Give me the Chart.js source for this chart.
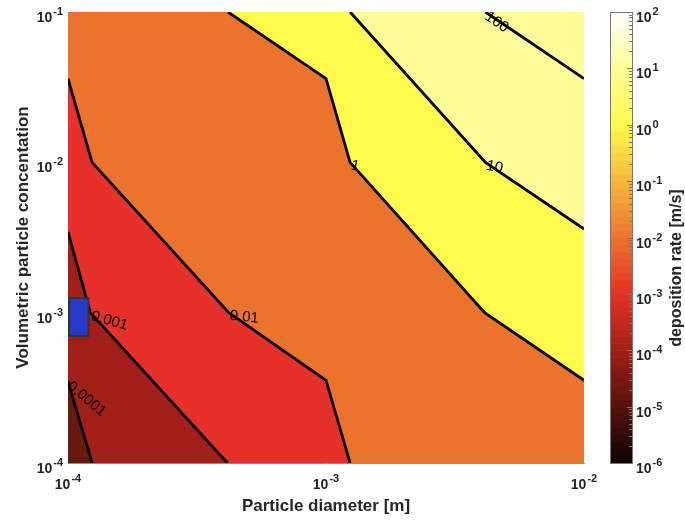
<!DOCTYPE html>
<html lang="en">
<head>
<meta charset="UTF-8">
<title>Deposition rate map</title>
<script src="https://cdn.jsdelivr.net/npm/chart.js"></script>
<style>
  body { margin: 0; background: #fff; }
  #wrap { position: relative; width: 685px; height: 521px; }
</style>
</head>
<body>
<div id="wrap"><canvas id="depositionChart"></canvas></div>
<script>
// contour levels of the deposition rate [m/s] and their printed labels
const levels = [1e-4, 1e-3, 1e-2, 1, 10, 100];
const levelText = ['0.0001', '0.001', '0.01', '1', '10', '100'];

// contour lines: particle diameter [m] vs volumetric concentration
const diam1e4 = [1e-4, 1.24e-4];
const conc1e4 = [3.5e-4, 1e-4];
const diam1e3 = [1e-4, 1.22e-4, 4.15e-4];
const conc1e3 = [3.45e-3, 1e-3, 1e-4];
const diam1e2 = [1e-4, 1.24e-4, 4.2e-4, 1e-3, 1.24e-3];
const conc1e2 = [3.6e-2, 1e-2, 1e-3, 3.55e-4, 1e-4];
const diam1e0 = [4.17e-4, 1e-3, 1.24e-3, 4.12e-3, 1e-2];
const conc1e0 = [1e-1, 3.6e-2, 1e-2, 1e-3, 3.55e-4];
const diam1e1 = [1.24e-3, 4.15e-3, 1e-2];
const conc1e1 = [1e-1, 1e-2, 3.6e-3];
const diam1e2b = [4.15e-3, 1e-2];
const conc1e2b = [1e-1, 3.6e-2];

const lineDiam = [diam1e4, diam1e3, diam1e2, diam1e0, diam1e1, diam1e2b];
const lineConc = [conc1e4, conc1e3, conc1e2, conc1e0, conc1e1, conc1e2b];

// where each contour label sits (data coords) and its tilt in degrees
const labelDiam = [1e-4, 1.22e-4, 4.2e-4, 1.24e-3, 4.15e-3, 4.15e-3];
const labelConc = [3.5e-4, 1e-3, 1e-3, 1e-2, 1e-2, 1e-1];
const labelTilt = [40, 16, 6, 10, 12, 35];

// highlighted operating point
const markerDiam = [1e-4, 1.2e-4];
const markerConc = [7.0e-4, 1.25e-3];

// axis ranges and ticks
const diamRange = [1e-4, 1e-2];
const concRange = [1e-4, 1e-1];
const rateRange = [1e-6, 1e2];
const diamTicks = [1e-4, 1e-3, 1e-2];
const concTicks = [1e-4, 1e-3, 1e-2, 1e-1];
const rateTicks = [1e-6, 1e-5, 1e-4, 1e-3, 1e-2, 1e-1, 1e0, 1e1, 1e2];

// fill colours: below the first level, then above each level
const regionColors = ['#6a1911', '#a11f17', '#e5312a', '#ec732e', '#fffa4d', '#fffb98', '#fffb98'];
// "hot" colour map as it appears on screen, position 0..1 -> rgb
const cmapStops = [
  [0, [12, 3, 3]], [0.25, [161, 31, 23]], [0.375, [229, 49, 37]],
  [0.5, [236, 115, 46]], [0.75, [255, 250, 77]], [0.875, [255, 252, 150]], [1, [255, 255, 252]]
];

const ink = '#262626';
const fam = '"Liberation Sans", Arial, sans-serif';
const titleFont = { family: fam, size: 17, weight: 'bold' };

function cmap(t) {
  for (let i = 1; i < cmapStops.length; i++) {
    const [t1, c1] = cmapStops[i];
    const [t0, c0] = cmapStops[i - 1];
    if (t <= t1) {
      const f = (t - t0) / (t1 - t0);
      const c = c0.map((v, k) => Math.round(v + (c1[k] - v) * f));
      return `rgb(${c[0]},${c[1]},${c[2]})`;
    }
  }
  return 'rgb(255,255,255)';
}

// "10" with a raised exponent; align is where x sits on the label
function drawPow(ctx, v, x, baseY, align) {
  const exp = String(Math.round(Math.log10(v)));
  ctx.font = 'bold 14px ' + fam;
  const wb = ctx.measureText('10').width;
  ctx.font = 'bold 11px ' + fam;
  const we = ctx.measureText(exp).width;
  const total = wb + 1 + we;
  let x0 = x;
  if (align === 'right') x0 = x - total;
  else if (align === 'center') x0 = x - total / 2;
  ctx.textAlign = 'left';
  ctx.textBaseline = 'alphabetic';
  ctx.font = 'bold 14px ' + fam;
  ctx.fillText('10', x0, baseY);
  ctx.font = 'bold 11px ' + fam;
  ctx.fillText(exp, x0 + wb + 1, baseY - 7);
}

// filled bands: each contour line filled up to the top of the plot,
// lines that end on the bottom edge are closed along it to the right side
const fillSets = levels.map((lv, i) => {
  const pts = lineDiam[i].map((d, k) => ({ x: d, y: lineConc[i][k] }));
  const last = pts[pts.length - 1];
  if (last.y === concRange[0] && last.x < diamRange[1]) pts.push({ x: diamRange[1], y: concRange[0] });
  return {
    data: pts, showLine: true, fill: 'end', backgroundColor: regionColors[i + 1],
    borderColor: 'rgba(0,0,0,0)', borderWidth: 1, pointRadius: 0, tension: 0, order: 20 - i
  };
});

const lineSets = levels.map((lv, i) => ({
  data: lineDiam[i].map((d, k) => ({ x: d, y: lineConc[i][k] })),
  showLine: true, fill: false, borderColor: '#000', borderWidth: 2.8,
  pointRadius: 0, tension: 0, order: 1
}));

const overlay = {
  id: 'overlay',
  beforeDatasetsDraw(chart) {
    const { ctx, chartArea: a } = chart;
    ctx.save();
    ctx.fillStyle = regionColors[0];
    ctx.fillRect(a.left, a.top, a.right - a.left, a.bottom - a.top);
    ctx.restore();
  },
  afterDatasetsDraw(chart) {
    const { ctx, chartArea: a, scales } = chart;
    const sx = scales.x, sy = scales.y, sc = scales.cbar;
    ctx.save();

    // operating point box
    const bx0 = sx.getPixelForValue(markerDiam[0]), bx1 = sx.getPixelForValue(markerDiam[1]);
    const by0 = sy.getPixelForValue(markerConc[1]), by1 = sy.getPixelForValue(markerConc[0]);
    ctx.fillStyle = '#2a39c9';
    ctx.fillRect(bx0, by0, bx1 - bx0, by1 - by0);
    ctx.strokeStyle = '#333';
    ctx.lineWidth = 2;
    ctx.strokeRect(bx0 + 1, by0, bx1 - bx0 - 1, by1 - by0);

    // contour labels
    ctx.beginPath();
    ctx.rect(a.left, a.top, a.right - a.left, a.bottom - a.top);
    ctx.clip();
    ctx.fillStyle = '#000';
    ctx.font = '15px ' + fam;
    ctx.textAlign = 'left';
    ctx.textBaseline = 'middle';
    levelText.forEach((t, i) => {
      ctx.save();
      ctx.translate(sx.getPixelForValue(labelDiam[i]) + 1, sy.getPixelForValue(labelConc[i]) + 3);
      ctx.rotate(labelTilt[i] * Math.PI / 180);
      ctx.fillText(t, 0, 0);
      ctx.restore();
    });
    ctx.restore();

    // colour bar, 64 discrete steps over the log range
    ctx.save();
    const cx = a.right + 26, cw = 22;
    const lo = Math.log10(rateRange[0]), hi = Math.log10(rateRange[1]);
    for (let k = 0; k < 64; k++) {
      const yb = sc.getPixelForValue(Math.pow(10, lo + (hi - lo) * k / 64));
      const yt = sc.getPixelForValue(Math.pow(10, lo + (hi - lo) * (k + 1) / 64));
      ctx.fillStyle = cmap((k + 0.5) / 64);
      ctx.fillRect(cx, yt, cw, yb - yt + 0.6);
    }
    const top = sc.getPixelForValue(rateRange[1]), bot = sc.getPixelForValue(rateRange[0]);
    ctx.strokeStyle = '#777';
    ctx.lineWidth = 1;
    ctx.strokeRect(cx + 0.5, top + 0.5, cw, bot - top);
    ctx.beginPath();
    for (let e = lo; e < hi; e++) {
      for (let m = 1; m < 10; m++) {
        const yy = Math.round(sc.getPixelForValue(m * Math.pow(10, e))) + 0.5;
        const len = m === 1 ? 5 : 3;
        ctx.moveTo(cx + cw - len, yy);
        ctx.lineTo(cx + cw, yy);
      }
    }
    ctx.stroke();

    // tick labels of all three axes
    ctx.fillStyle = ink;
    diamTicks.forEach(v => drawPow(ctx, v, sx.getPixelForValue(v), a.bottom + 26, 'center'));
    concTicks.forEach(v => drawPow(ctx, v, a.left - 5, sy.getPixelForValue(v) + 10, 'right'));
    rateTicks.forEach(v => drawPow(ctx, v, cx + cw + 4, sc.getPixelForValue(v) + 10, 'left'));

    // colour bar title, reading upwards
    ctx.translate(677, 268);
    ctx.rotate(-Math.PI / 2);
    ctx.font = 'bold 16px ' + fam;
    ctx.textAlign = 'center';
    ctx.textBaseline = 'middle';
    ctx.fillText('deposition rate [m/s]', 0, 0);
    ctx.restore();
  }
};

const noPad = s => { s.paddingTop = 0; s.paddingBottom = 0; };

new Chart(document.getElementById('depositionChart'), {
  type: 'scatter',
  data: { datasets: [...fillSets, ...lineSets] },
  options: {
    responsive: true,
    maintainAspectRatio: false,
    animation: false,
    layout: { padding: { top: 12, left: 0, right: 0, bottom: 0 } },
    plugins: { legend: { display: false }, tooltip: { enabled: false } },
    scales: {
      x: {
        type: 'logarithmic', min: diamRange[0], max: diamRange[1], z: 1,
        grid: { display: false, drawTicks: false },
        border: { display: true, color: '#8c8c8c', width: 1 },
        afterBuildTicks: s => { s.ticks = diamTicks.map(v => ({ value: v })); },
        afterFit: s => { s.height = 58; s.paddingLeft = 0; s.paddingRight = 0; },
        ticks: { display: false },
        title: { display: true, text: 'Particle diameter [m]', color: ink, font: titleFont, padding: { top: 0, bottom: 4 } }
      },
      y: {
        type: 'logarithmic', min: concRange[0], max: concRange[1],
        grid: { display: false, drawTicks: false },
        border: { display: false },
        afterBuildTicks: s => { s.ticks = concTicks.map(v => ({ value: v })); },
        afterFit: s => { s.width = 68; noPad(s); },
        ticks: { display: false },
        title: { display: true, text: 'Volumetric particle concentation', color: ink, font: titleFont, padding: { top: 13, bottom: 0 } }
      },
      cbar: {
        type: 'logarithmic', position: 'right', min: rateRange[0], max: rateRange[1],
        grid: { display: false, drawTicks: false },
        border: { display: false },
        afterBuildTicks: s => { s.ticks = rateTicks.map(v => ({ value: v })); },
        afterFit: s => { s.width = 101; noPad(s); },
        ticks: { display: false }
      }
    }
  },
  plugins: [overlay]
});
</script>
</body>
</html>
